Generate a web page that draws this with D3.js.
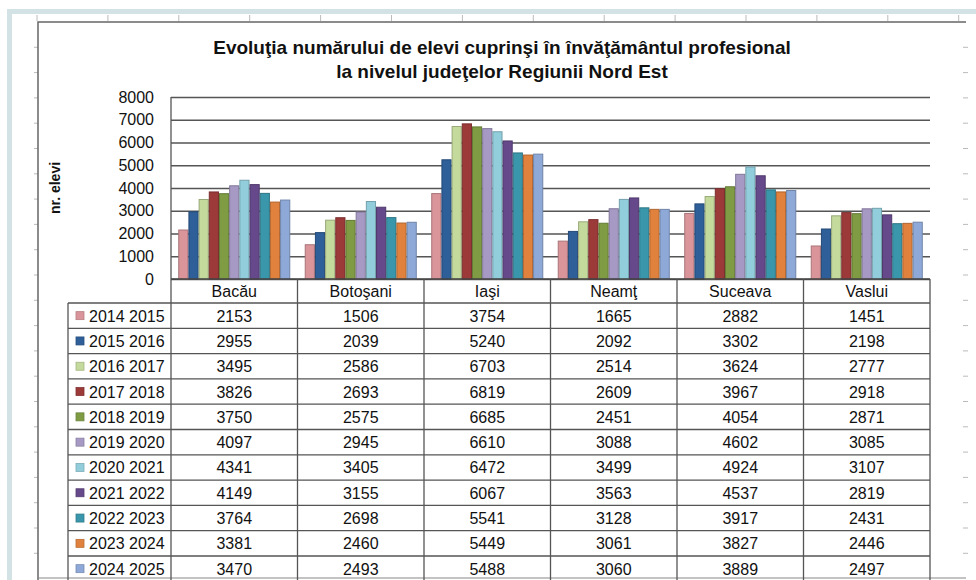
<!DOCTYPE html>
<html>
<head>
<meta charset="utf-8">
<script src="https://cdn.jsdelivr.net/npm/d3@7"></script>
<style>
  body { margin: 0; background: #fff; }
  svg { display: block; font-family: "Liberation Sans", Arial, sans-serif; }
</style>
</head>
<body>
<div id="chart"></div>
<script>
// Datos

const judete = ["Bacău", "Botoşani", "Iaşi", "Neamţ", "Suceava", "Vaslui"]
const ani = ["2014 2015", "2015 2016", "2016 2017", "2017 2018", "2018 2019", "2019 2020",
             "2020 2021", "2021 2022", "2022 2023", "2023 2024", "2024 2025"]

const v2014 = [2153, 1506, 3754, 1665, 2882, 1451]
const v2015 = [2955, 2039, 5240, 2092, 3302, 2198]
const v2016 = [3495, 2586, 6703, 2514, 3624, 2777]
const v2017 = [3826, 2693, 6819, 2609, 3967, 2918]
const v2018 = [3750, 2575, 6685, 2451, 4054, 2871]
const v2019 = [4097, 2945, 6610, 3088, 4602, 3085]
const v2020 = [4341, 3405, 6472, 3499, 4924, 3107]
const v2021 = [4149, 3155, 6067, 3563, 4537, 2819]
const v2022 = [3764, 2698, 5541, 3128, 3917, 2431]
const v2023 = [3381, 2460, 5449, 3061, 3827, 2446]
const v2024 = [3470, 2493, 5488, 3060, 3889, 2497]
const valori = [v2014, v2015, v2016, v2017, v2018, v2019, v2020, v2021, v2022, v2023, v2024]

const yTicks = [0, 1000, 2000, 3000, 4000, 5000, 6000, 7000, 8000]

const colores = ["#d9959a", "#2e5f98", "#c4d99c", "#9c3a3a", "#7f9c45", "#a699c4",
                 "#92cddc", "#65498a", "#3a96aa", "#e0823d", "#8ea9d8"]

// Constantes

const width = 976
const height = 580
const plot = { left: 171, right: 930, top: 97, bottom: 279 }
const rowH = 25.3
const tableTop = 303
const legendLeft = 68
const fs = "16px"

const svg = d3.select("#chart").append("svg").attr("width", width).attr("height", height)

// marco del documento
svg.append("rect").attr("x", 7).attr("y", 9).attr("width", width - 7).attr("height", 5).attr("fill", "#d3e2e5")
svg.append("rect").attr("x", 7).attr("y", 9).attr("width", 5).attr("height", height - 9).attr("fill", "#d3e2e5")

const frame = svg.append("g").attr("id", "frame")
frame.selectAll("line.ruler").data(d3.range(14))
    .join("line").attr("class", "ruler")
        .attr("x1", d => 37 + d * 70.9).attr("x2", d => 37 + d * 70.9)
        .attr("y1", 15).attr("y2", 21)
        .attr("stroke", "#bbb").attr("stroke-width", 1)
frame.selectAll("line.rtick").data(d3.range(1, 22))
    .join("line").attr("class", "rtick")
        .attr("x1", 963).attr("x2", 968)
        .attr("y1", d => 22 + d * 25.3).attr("y2", d => 22 + d * 25.3)
        .attr("stroke", "#bbb")
frame.selectAll("line.ltick").data(d3.range(1, 22))
    .join("line").attr("class", "ltick")
        .attr("x1", 34).attr("x2", 38)
        .attr("y1", d => 22 + d * 25.3).attr("y2", d => 22 + d * 25.3)
        .attr("stroke", "#bbb")
frame.append("path")
    .attr("d", `M38,${height} L38,22 L966,22`)
    .attr("fill", "none").attr("stroke", "#666").attr("stroke-width", 1.5)
frame.append("line").attr("x1", 38).attr("x2", 966).attr("y1", 578).attr("y2", 578)
    .attr("stroke", "#888").attr("stroke-width", 1.2)

// Título

const title = svg.append("text")
    .attr("x", 502).attr("y", 54)
    .attr("text-anchor", "middle")
    .style("font-size", "19px").style("font-weight", "bold").attr("fill", "#111")
title.append("tspan").attr("x", 502).text("Evoluţia numărului de elevi cuprinşi în învăţământul profesional")
title.append("tspan").attr("x", 502).attr("dy", 24).text("la nivelul judeţelor Regiunii Nord Est")

svg.append("text")
    .attr("transform", `translate(60,188) rotate(-90)`)
    .attr("text-anchor", "middle")
    .style("font-size", "14px").style("font-weight", "bold").attr("fill", "#111")
    .text("nr. elevi")

// Escalas

const x = d3.scaleBand().domain(judete).range([plot.left, plot.right]).padding(0)
const xs = d3.scaleBand().domain(ani).range([0, x.bandwidth()]).paddingInner(0).paddingOuter(0.71)
const y = d3.scaleLinear().domain([0, 8000]).range([plot.bottom, plot.top])

const yAxis = d3.axisLeft(y).tickValues(yTicks).tickFormat(d3.format("d"))
    .tickSize(-(plot.right - plot.left)).tickPadding(17)
const yAxisGroup = svg.append("g").attr("transform", `translate(${plot.left},0)`).call(yAxis)
yAxisGroup.select(".domain").remove()
yAxisGroup.selectAll(".tick line").attr("stroke", "#555").attr("stroke-width", 1.3)
yAxisGroup.selectAll(".tick text").style("font-size", fs).attr("fill", "#111")
    .style("font-family", "Liberation Sans, Arial, sans-serif")
svg.append("line").attr("x1", plot.left).attr("x2", plot.left).attr("y1", plot.top).attr("y2", plot.bottom)
    .attr("stroke", "#555").attr("stroke-width", 1.3)

// Barras

const serie = ani.map((a, i) => ({ an: a, color: colores[i], vals: valori[i] }))
const elementGroup = svg.append("g").attr("id", "elementGroup")
elementGroup.selectAll("g").data(serie)
    .join("g")
        .attr("fill", d => d.color)
        .attr("stroke", d => d3.color(d.color).darker(0.7))
    .selectAll("rect").data(d => d.vals.map((v, j) => ({ an: d.an, judet: judete[j], v: v })))
    .join("rect")
        .attr("x", d => x(d.judet) + xs(d.an) + 0.5)
        .attr("y", d => y(d.v))
        .attr("width", xs.bandwidth() - 1)
        .attr("height", d => y(0) - y(d.v))
        .attr("stroke-width", 1)

// Tabla de datos

const table = svg.append("g").attr("id", "table")
const tableBottom = tableTop + ani.length * rowH
const rowY = d3.scaleBand().domain(ani).range([tableTop, tableBottom])

table.append("line").attr("x1", plot.left).attr("x2", plot.right).attr("y1", plot.bottom).attr("y2", plot.bottom)
    .attr("stroke", "#444").attr("stroke-width", 1.3)
table.selectAll("line.vsep").data(judete.concat(["end"]))
    .join("line").attr("class", "vsep")
        .attr("x1", d => d === "end" ? plot.right : x(d)).attr("x2", d => d === "end" ? plot.right : x(d))
        .attr("y1", plot.bottom).attr("y2", tableBottom)
        .attr("stroke", "#555").attr("stroke-width", 1.3)
table.append("line").attr("x1", legendLeft).attr("x2", legendLeft).attr("y1", tableTop).attr("y2", tableBottom)
    .attr("stroke", "#555").attr("stroke-width", 1.3)
table.selectAll("line.hsep").data(d3.range(ani.length + 1))
    .join("line").attr("class", "hsep")
        .attr("x1", legendLeft).attr("x2", plot.right)
        .attr("y1", d => tableTop + d * rowH).attr("y2", d => tableTop + d * rowH)
        .attr("stroke", "#555").attr("stroke-width", 1.3)

table.selectAll("text.judet").data(judete)
    .join("text").attr("class", "judet")
        .attr("x", d => x(d) + x.bandwidth() / 2)
        .attr("y", (plot.bottom + tableTop) / 2 + 6)
        .attr("text-anchor", "middle")
        .style("font-size", fs).attr("fill", "#111")
        .text(d => d)

const rows = table.selectAll("g.row").data(serie)
    .join("g").attr("class", "row")
        .attr("transform", d => `translate(0,${rowY(d.an) + rowY.bandwidth() / 2})`)
rows.append("rect")
    .attr("x", 76).attr("y", -4).attr("width", 8).attr("height", 8)
    .attr("fill", d => d.color).attr("stroke", d => d3.color(d.color).darker(0.5)).attr("stroke-width", 0.8)
rows.append("text")
    .attr("x", 89).attr("y", 6)
    .style("font-size", fs).attr("fill", "#111")
    .text(d => d.an)
rows.selectAll("text.val").data(d => d.vals.map((v, j) => ({ judet: judete[j], v: v })))
    .join("text").attr("class", "val")
        .attr("x", d => x(d.judet) + x.bandwidth() / 2)
        .attr("y", 6)
        .attr("text-anchor", "middle")
        .style("font-size", fs).attr("fill", "#111")
        .text(d => d.v)
</script>
</body>
</html>
